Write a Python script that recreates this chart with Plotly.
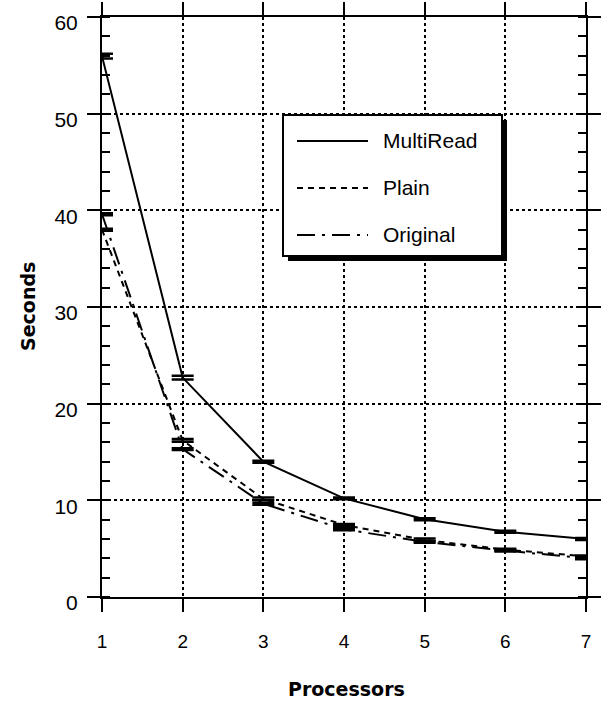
import plotly.graph_objects as go

processors = [1, 2, 3, 4, 5, 6, 7]
multiread = [55.95, 22.7, 14.0, 10.2, 8.05, 6.75, 6.0]
multiread_err = [0.25, 0.2, 0.1, 0.1, 0.1, 0.1, 0.1]
plain = [38.0, 16.2, 10.15, 7.45, 5.9, 4.9, 4.2]
plain_err = [0.1, 0.15, 0.15, 0.1, 0.15, 0.1, 0.1]
original = [39.6, 15.3, 9.65, 7.0, 5.7, 4.8, 4.0]
original_err = [0.1, 0.1, 0.1, 0.1, 0.1, 0.1, 0.1]

series_names = ["MultiRead", "Plain", "Original"]
x_ticks = [1, 2, 3, 4, 5, 6, 7]
y_ticks = [0, 10, 20, 30, 40, 50, 60]

W, H = 604, 704
L, R, T, B = 102, 586, 17, 597
FONT = "Liberation Sans, Arial, Helvetica, sans-serif"
BOLD_FONT = "DejaVu Sans, Liberation Sans, sans-serif"

dashes = ["solid", "6px,5px", "18px,7px,3px,7px"]
fig = go.Figure()
for name, ys, err, dash in zip(series_names, [multiread, plain, original],
                               [multiread_err, plain_err, original_err], dashes):
    fig.add_trace(go.Scatter(
        x=processors, y=ys, mode="lines", name=name,
        line=dict(color="black", width=2, dash=dash),
        error_y=dict(type="data", array=err, visible=True, color="black",
                     thickness=2.5, width=11),
        showlegend=False,
    ))

def px(x):
    return (x - L) / (R - L)

def py(y):
    return (B - y) / (B - T)

shapes = []
# legend shadow and box
shapes.append(dict(type="rect", xref="paper", yref="paper", layer="above",
                   x0=px(288), x1=px(507), y0=py(261), y1=py(120),
                   fillcolor="black", line=dict(width=0)))
shapes.append(dict(type="rect", xref="paper", yref="paper", layer="above",
                   x0=px(283), x1=px(502), y0=py(256), y1=py(115),
                   fillcolor="white", line=dict(color="black", width=2)))
rows = [141, 188, 235]
annotations = []
for name, dash, ry in zip(series_names, dashes, rows):
    shapes.append(dict(type="line", xref="paper", yref="paper", layer="above",
                       x0=px(297), x1=px(368), y0=py(ry), y1=py(ry),
                       line=dict(color="black", width=2, dash=dash)))
    annotations.append(dict(xref="paper", yref="paper", x=px(381), y=py(ry - 1),
                            text=name, showarrow=False, xanchor="left", yanchor="middle",
                            font=dict(family=FONT, size=21, color="black")))

annotations.append(dict(xref="paper", yref="paper", x=px(346), y=py(689),
                        text="<b>Processors</b>", showarrow=False,
                        xanchor="center", yanchor="middle",
                        font=dict(family=BOLD_FONT, size=19, color="black")))
annotations.append(dict(xref="paper", yref="paper", x=px(28), y=py(307),
                        text="<b>Seconds</b>", showarrow=False, textangle=-90,
                        xanchor="center", yanchor="middle",
                        font=dict(family=BOLD_FONT, size=19, color="black")))

axis_common = dict(
    showline=True, linecolor="black", linewidth=2, mirror="ticks",
    ticks="outside", ticklen=13, tickwidth=2, tickcolor="black",
    showgrid=True, gridcolor="black", gridwidth=1.5, griddash="dot",
    zeroline=False, automargin=False, ticklabeloverflow="allow",
)

fig.update_layout(
    width=W, height=H,
    margin=dict(l=L, r=W - R, t=T, b=H - B),
    paper_bgcolor="white", plot_bgcolor="white",
    xaxis=dict(range=[1, 7], tickvals=x_ticks, ticktext=[str(v) for v in x_ticks],
               ticklabelstandoff=13,
               tickfont=dict(family=FONT, size=19, color="black"),
               **axis_common),
    yaxis=dict(range=[0, 60], tickvals=y_ticks, ticktext=[str(v) for v in y_ticks],
               ticklabelstandoff=5, ticklabelshift=6,
               tickfont=dict(family=FONT, size=21, color="black"),
               minor=dict(dtick=2, tick0=0, ticks="inside", ticklen=8, tickwidth=2,
                          tickcolor="black", showgrid=False),
               **axis_common),
    shapes=shapes, annotations=annotations, showlegend=False,
)

fig.write_html("out.html", config={"displayModeBar": False},
               post_script="document.body.style.margin='0px';")
